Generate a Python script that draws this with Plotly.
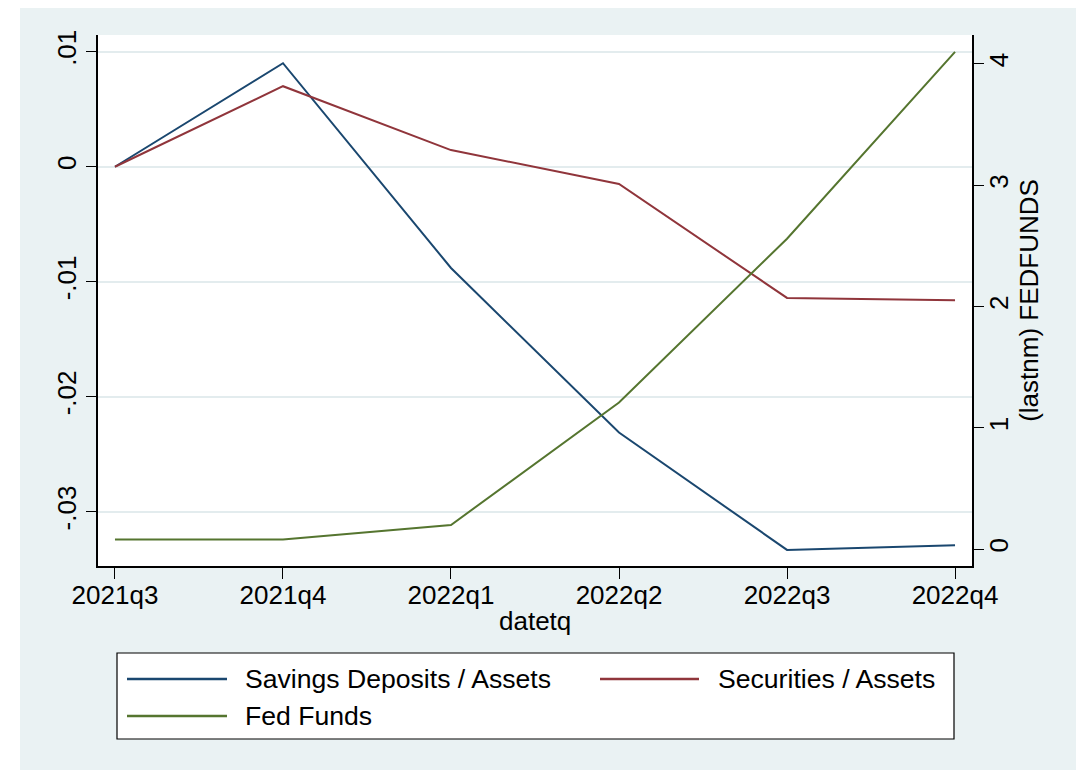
import plotly.graph_objects as go

# Quarterly observations
quarters = ["2021q3", "2021q4", "2022q1", "2022q2", "2022q3", "2022q4"]
savings_deposits = [0.0, 0.0090, -0.0088, -0.0231, -0.0333, -0.0329]
securities = [0.0, 0.0070, 0.00145, -0.0015, -0.0114, -0.0116]
fed_funds = [0.08, 0.08, 0.20, 1.21, 2.56, 4.10]

left_ticks = [0.01, 0.0, -0.01, -0.02, -0.03]
left_tick_text = [".01", "0", "-.01", "-.02", "-.03"]
right_ticks = [0, 1, 2, 3, 4]

series_names = ["Savings Deposits / Assets", "Securities / Assets", "Fed Funds"]
colors = ["#1a476f", "#90353b", "#55752f"]

BG = "#EAF2F3"
FONT = "Liberation Sans, Arial, sans-serif"
W, H = 1076, 770
L, R, T, B = 98, 972, 35, 566  # plot-area edges in pixels


def xp(px):
    return (px - L) / (R - L)


def yp(py):
    return (B - py) / (B - T)


fig = go.Figure()
fig.add_trace(go.Scatter(x=quarters, y=savings_deposits, name=series_names[0],
                         mode="lines", line=dict(color=colors[0], width=2),
                         yaxis="y"))
fig.add_trace(go.Scatter(x=quarters, y=securities, name=series_names[1],
                         mode="lines", line=dict(color=colors[1], width=2),
                         yaxis="y"))
fig.add_trace(go.Scatter(x=quarters, y=fed_funds, name=series_names[2],
                         mode="lines", line=dict(color=colors[2], width=2),
                         yaxis="y2"))

shapes = [
    # white page strips outside the graph region
    dict(type="rect", xref="paper", yref="paper", x0=xp(0), x1=xp(20),
         y0=yp(800), y1=yp(-10), fillcolor="white", line_width=0, layer="below"),
    dict(type="rect", xref="paper", yref="paper", x0=xp(0), x1=xp(1100),
         y0=yp(8), y1=yp(-10), fillcolor="white", line_width=0, layer="below"),
    # legend box
    dict(type="rect", xref="paper", yref="paper", x0=xp(117), x1=xp(954),
         y0=yp(739), y1=yp(653), fillcolor="white",
         line=dict(color="black", width=1.2)),
]
annotations = [
    # x-axis title
    dict(text="datetq", xref="paper", yref="paper", x=0.5, y=yp(621),
         xanchor="center", yanchor="middle", showarrow=False,
         font=dict(size=26, color="black", family=FONT)),
]
legend_slots = [(127, 227, 243, 679), (600, 699, 716, 679), (127, 227, 243, 716)]
for name, color, (lx0, lx1, tx, ly) in zip(series_names, colors, legend_slots):
    shapes.append(dict(type="line", xref="paper", yref="paper",
                       x0=xp(lx0), x1=xp(lx1), y0=yp(ly), y1=yp(ly),
                       line=dict(color=color, width=2.5)))
    annotations.append(dict(text=name, xref="paper", yref="paper",
                            x=xp(tx), y=yp(ly), xanchor="left", yanchor="middle",
                            showarrow=False, font=dict(size=26.6, color="black", family=FONT)))

axis_common = dict(showline=True, linecolor="black", linewidth=1.5,
                   ticks="outside", ticklen=10, tickwidth=1.2, tickcolor="black",
                   tickfont=dict(size=26, color="black", family=FONT),
                   zeroline=False)

fig.update_layout(
    width=W, height=H,
    margin=dict(l=L, r=W - R, t=T, b=H - B),
    paper_bgcolor=BG, plot_bgcolor="white",
    showlegend=False,
    font=dict(family=FONT, color="black"),
    xaxis=dict(type="category", range=[-0.101, 5.101], showgrid=False,
               ticklen=11, ticklabelstandoff=-6,
               **{k: v for k, v in axis_common.items() if k != "ticklen"}),
    yaxis=dict(range=[-0.0347, 0.01145], tickvals=left_ticks, ticktext=left_tick_text,
               tickangle=-90, showgrid=True, gridcolor="#E3ECEE", gridwidth=1.5,
               **axis_common),
    yaxis2=dict(range=[-0.138, 4.239], tickvals=right_ticks, overlaying="y",
                side="right", tickangle=-90, showgrid=False, ticklabelstandoff=-7,
                title=dict(text="(lastnm) FEDFUNDS", font=dict(size=26), standoff=3),
                **axis_common),
    shapes=shapes,
    annotations=annotations,
)

fig.write_html("out.html")
